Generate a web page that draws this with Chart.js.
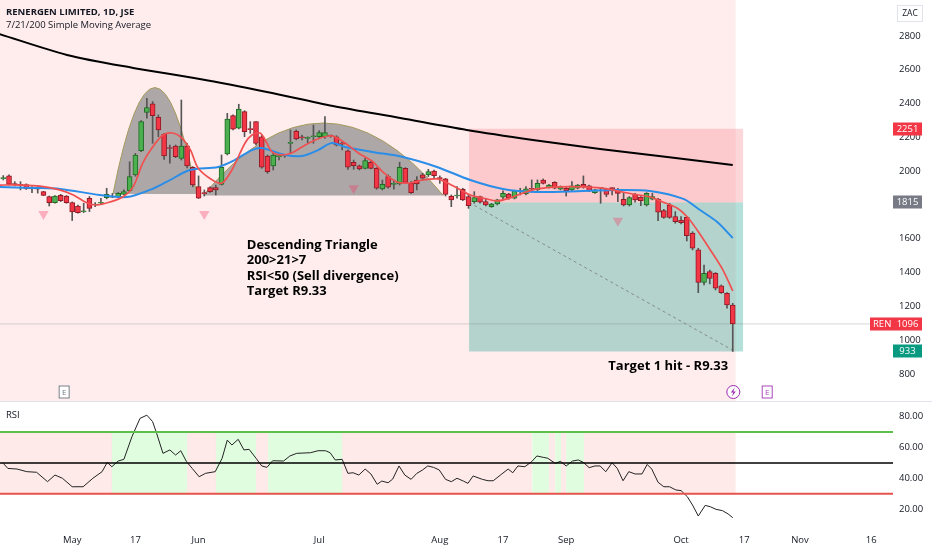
<!DOCTYPE html>
<html>
<head>
<meta charset="utf-8">
<script src="https://cdn.jsdelivr.net/npm/chart.js@4.4.0/dist/chart.umd.min.js"></script>
<style>
	html, body { margin: 0; padding: 0; background: #ffffff; }
	#wrap { position: relative; width: 932px; height: 550px; overflow: hidden; }
	#price_chart { position: absolute; left: 0; top: 0; }
	#rsi_chart { position: absolute; left: 0; top: 401px; }
</style>
</head>
<body>
<div id="wrap">
	<canvas id="price_chart" width="932" height="401"></canvas>
	<canvas id="rsi_chart" width="932" height="149"></canvas>
</div>
<script>
// daily candles, one per trading day (index 0 = first visible bar)
const opens = [1955,1972,1922,1918,1920,1898,1897,1879,1850,1814,
	1857,1853,1814,1794,1760,1840,1800,1810,1843,1853,
	1846,1863,1885,1978,2122,2348,2398,2319,2218,2136,
	2149,2076,2149,2023,1909,1869,1903,1903,1922,2102,
	2329,2254,2352,2248,2293,2204,2090,2031,2086,2090,
	2165,2238,2198,2194,2204,2204,2204,2210,2204,2162,
	2120,2053,2031,2017,2053,2017,1895,1968,1922,1924,
	2017,1928,1948,1978,1978,2001,1958,1954,1853,1853,
	1893,1849,1820,1849,1820,1790,1806,1846,1865,1840,
	1879,1865,1895,1889,1948,1903,1934,1893,1899,1889,
	1899,1922,1913,1873,1899,1895,1899,1893,1834,1800,
	1865,1846,1800,1834,1834,1767,1800,1731,1711,1727,
	1633,1534,1341,1406,1396,1321,1277,1208];
const highs = [1974,1978,1938,1938,1925,1909,1909,1881,1853,1856,
	1863,1856,1818,1800,1810,1850,1814,1840,1899,1868,
	1873,1889,2056,2105,2300,2431,2412,2333,2224,2155,
	2155,2421,2165,2027,1972,1889,1907,1918,2096,2342,
	2333,2396,2358,2293,2293,2214,2096,2110,2096,2096,
	2244,2244,2214,2204,2273,2240,2323,2214,2210,2175,
	2126,2066,2037,2076,2062,2021,1948,1978,1948,2053,
	2021,1938,1968,1987,2011,2007,1972,1958,1859,1909,
	1899,1859,1879,1853,1840,1810,1834,1883,1869,1887,
	1899,1909,1948,1948,1954,1922,1938,1913,1903,1938,
	1922,1972,1918,1893,1903,1899,1903,1899,1869,1850,
	1869,1849,1873,1869,1840,1774,1810,1761,1731,1731,
	1642,1544,1445,1415,1400,1327,1281,1218];
const lows = [1948,1918,1913,1889,1892,1873,1870,1855,1794,1810,
	1820,1810,1708,1752,1755,1761,1790,1806,1836,1843,
	1843,1859,1880,1970,2115,2313,2165,2204,2070,2047,
	2080,2066,2020,1908,1838,1853,1875,1859,1918,2096,
	2244,2250,2204,2224,2155,2017,1987,2007,2066,2082,
	2106,2185,2185,2165,2165,2194,2194,2200,2149,2126,
	2011,2011,2007,2013,2013,1893,1889,1899,1893,1918,
	1928,1869,1889,1948,1968,1958,1928,1853,1790,1840,
	1826,1780,1810,1810,1794,1786,1800,1830,1834,1836,
	1859,1859,1885,1885,1924,1899,1895,1889,1853,1885,
	1895,1899,1879,1869,1810,1849,1859,1820,1794,1794,
	1816,1796,1794,1830,1707,1721,1721,1692,1688,1587,
	1534,1281,1327,1333,1297,1277,1189,933];
const closes = [1962,1922,1920,1916,1895,1895,1894,1857,1814,1853,
	1826,1814,1759,1755,1762,1780,1800,1811,1863,1846,
	1869,1879,1968,2096,2293,2376,2329,2244,2090,2134,
	2086,2149,2031,1918,1840,1867,1879,1889,2023,2309,
	2248,2368,2234,2246,2165,2023,1997,2096,2090,2090,
	2165,2191,2197,2194,2204,2228,2228,2208,2155,2160,
	2023,2033,2013,2062,2017,1899,1922,1905,1922,2023,
	1934,1873,1924,1958,1997,1974,1956,1863,1830,1853,
	1830,1796,1844,1816,1800,1806,1830,1869,1840,1883,
	1881,1895,1893,1928,1928,1918,1899,1909,1885,1913,
	1918,1909,1883,1889,1899,1863,1897,1869,1800,1844,
	1830,1826,1869,1849,1757,1727,1727,1701,1695,1619,
	1544,1341,1396,1366,1307,1281,1208,1096];

// moving averages as [bar, price]
const sma7 = [[-1,1918],[2.9,1918],[6.4,1912],[9.8,1889],[12.2,1859],[14.6,1812],[16.3,1800],[18.6,1818],
	[20.8,1847],[22.6,1907],[24.3,2049],[26.0,2143],[27.8,2214],[29.5,2226],[31.1,2196],[32.6,2125],
	[33.9,2019],[36.4,1948],[38.1,1930],[39.8,2007],[42.1,2167],[43.3,2214],[44.7,2226],[45.6,2185],
	[46.8,2114],[48.5,2096],[50.2,2108],[52.0,2143],[54.3,2185],[56.6,2208],[57.8,2202],[59.5,2167],
	[61.8,2108],[64.2,2060],[66.1,1995],[68.5,1936],[70.8,1930],[73.0,1948],[75.6,1954],[77.3,1930],
	[79.0,1901],[81.3,1859],[83.5,1841],[86.0,1824],[88.2,1841],[90.5,1871],[92.9,1895],[97.0,1907],
	[101.0,1907],[103.9,1901],[106.9,1883],[109.6,1865],[112.6,1847],[114.8,1818],[117.3,1782],
	[119.1,1729],[120.8,1652],[123.1,1534],[125.3,1415],[127.0,1291]];
const sma21 = [[-1,1907],[5.2,1901],[9.9,1895],[16.8,1859],[21.5,1847],[25.5,1889],[28.5,1938],[32.5,2007],
	[37.4,2025],[40.3,2066],[43.3,2125],[45.0,2137],[49.1,2096],[52.0,2090],[54.8,2125],[57.2,2167],
	[59.5,2143],[64.2,2114],[69.6,2084],[75.5,2025],[81.3,1948],[87.0,1895],[92.9,1877],[100.9,1883],
	[106.9,1889],[112.6,1883],[118.4,1836],[121.3,1770],[124.3,1699],[127.0,1605]];
const sma200 = [[-1,2815],[11.1,2688],[22.6,2611],[34.2,2546],[45.9,2469],[57.4,2386],[69.1,2315],
	[80.7,2244],[92.2,2185],[103.9,2131],[115.6,2084],[127.0,2036]];

// RSI(14) as [bar, value]
const rsi = [[0,49.7],[0.8,46.4],[2.4,46],[4.1,44.3],[5.8,43.9],[7.7,37.8],[9.0,42.1],[10.3,40],
	[12.0,34.5],[13.9,34.5],[15.6,40],[17.2,44.3],[18.1,50.3],[18.9,47.5],[20.0,51.2],[21.0,52.3],
	[22.4,67],[23.8,78.9],[25.0,81],[26.0,76.8],[26.7,69.2],[27.8,56.2],[29.0,58.4],[30.0,55.1],
	[30.9,57.9],[31.9,50.8],[32.9,46.4],[34.1,41],[35.2,43.2],[36.9,44.3],[38.1,53],[39.0,64.8],
	[39.8,61.6],[40.9,65.3],[41.9,58.4],[42.8,58.8],[44.0,53],[45.0,48],[45.9,47.1],[46.9,51.4],
	[48.8,51.2],[49.9,54.5],[51.1,56.2],[53.5,56.6],[54.8,57.9],[56.1,57.9],[56.9,56.6],[57.8,51.9],
	[59.0,52.3],[60.0,43.2],[60.9,43.6],[61.9,42.1],[63.0,46],[64.0,42.8],[65.1,36.1],[65.9,38.2],
	[67.0,37.1],[67.8,39.5],[68.9,48],[69.9,42.1],[71.0,39.3],[72.0,43.2],[73.0,45.4],[73.9,48],
	[74.9,47.1],[75.9,45.4],[77.0,39.3],[78.0,37.8],[79.0,40],[80.1,38.2],[80.9,36.7],[81.8,41.5],
	[83.4,39.3],[84.4,38.4],[85.3,38.4],[86.8,42.8],[87.9,46],[88.7,43.6],[89.6,48],[90.8,47.5],
	[92.0,50.8],[92.9,54.5],[94.0,53.6],[94.8,53],[96.1,49.7],[97.0,51],[98.0,48],[99.1,51.2],
	[100.1,51.9],[101.0,50.3],[102.0,46.9],[103.0,48],[103.9,48],[104.9,44.3],[106.0,50.1],[106.9,46.4],
	[107.9,38.4],[108.9,44.3],[110.0,42.8],[111.2,42.8],[112.1,49],[112.9,46],[114.0,37.4],[115.0,34.5],
	[116.0,34.5],[117.1,32.4],[118.0,32],[119.1,28],[120.0,22.6],[121.0,15.5],[122.2,22.4],[123.1,21.5],
	[124.1,19.8],[125.2,19],[126.2,16.8],[127.0,14.4]];
// stretches (in bars) where the RSI band is green
const rsi_green = [[18.9,32.0],[37.0,44.0],[46.1,59.0],[92.1,95.0],[96.1,97.1],[98.0,101.1]];
const rsi_levels = [70, 50, 30];

const signal_bars = [7, 35, 61, 107];
const signal_prices = [1747, 1747, 1899, 1706];

const price_ticks = [800, 1000, 1200, 1400, 1600, 1800, 2000, 2200, 2400, 2600, 2800];
const rsi_ticks = [20, 40, 60, 80];
const date_ticks = [12, 23, 34, 55, 76, 87, 98, 118, 129, 138.7, 151.1];
const date_labels = ['May', '17', 'Jun', 'Jul', 'Aug', '17', 'Sep', 'Oct', '17', 'Nov', '16'];

// drawings
const arcs = [
	{ from: 19.1, to: 33.7, base: 1865, peak: 2495 },
	{ from: 34.8, to: 76.6, base: 1856, peak: 2285 }
];
const trade = { from: 81.1, to: 128.8, entry: 1815, stop: 2251, target: 933, end: 127.4 };
const notes = [
	{ x: 42.4, y: 1563, align: 'left', lines: ['Descending Triangle', '200>21>7', 'RSI<50 (Sell divergence)', 'Target R9.33'] },
	{ x: 126.2, y: 847, align: 'right', lines: ['Target 1 hit - R9.33'] }
];
const events = [
	{ x: 10.6, kind: 'E', color: '#787b86' },
	{ x: 127.1, kind: 'bolt', color: '#9c27b0' },
	{ x: 133.0, kind: 'E', color: '#ab47bc' }
];
const price_tags = [
	{ value: 2251, text: '2251', color: '#f23645' },
	{ value: 1815, text: '1815', color: '#787b86' },
	{ value: 1096, text: '1096', name: 'REN', color: '#f23645' },
	{ value: 933, text: '933', color: '#089981' }
];

const X_MIN = -0.57;
const X_MAX = 154.9;
const FONT = "'Open Sans', 'Noto Sans', sans-serif";

Chart.defaults.font.family = FONT;
Chart.defaults.color = '#131722';

const price_ctx = document.getElementById('price_chart').getContext('2d');
const rsi_ctx = document.getElementById('rsi_chart').getContext('2d');

const bars = closes.map((c, i) => i);
const body_color = bars.map(i => closes[i] >= opens[i] ? '#4caf50' : '#f23645');
const body_edge = bars.map(i => closes[i] >= opens[i] ? '#1e6b22' : '#8e1b26');

const line_settings = {
	type: 'line',
	fill: false,
	pointRadius: 0,
	tension: 0.3,
	borderWidth: 2
};

function pairs(list) {
	return list.map(p => ({ x: p[0], y: p[1] }));
}

const price_decor = {
	id: 'price_decor',
	beforeDatasetsDraw(chart) {
		const ctx = chart.ctx;
		const area = chart.chartArea;
		const xs = chart.scales.x;
		const ys = chart.scales.y;
		ctx.save();
		ctx.beginPath();
		ctx.rect(area.left, area.top, area.right - area.left, area.bottom - area.top);
		ctx.clip();

		const end_x = xs.getPixelForValue(closes.length - 0.5);
		ctx.fillStyle = 'rgba(255, 82, 82, 0.1)';
		ctx.fillRect(area.left, area.top, end_x - area.left, area.bottom - area.top);

		const tx0 = xs.getPixelForValue(trade.from);
		const tx1 = xs.getPixelForValue(trade.to);
		const y_stop = ys.getPixelForValue(trade.stop);
		const y_entry = ys.getPixelForValue(trade.entry);
		const y_target = ys.getPixelForValue(trade.target);
		ctx.fillStyle = 'rgba(242, 54, 69, 0.2)';
		ctx.fillRect(tx0, y_stop, tx1 - tx0, y_entry - y_stop);
		ctx.fillStyle = 'rgba(8, 153, 129, 0.3)';
		ctx.fillRect(tx0, y_entry, tx1 - tx0, y_target - y_entry);

		arcs.forEach(a => {
			const x0 = xs.getPixelForValue(a.from);
			const x1 = xs.getPixelForValue(a.to);
			const yb = ys.getPixelForValue(a.base);
			const yc = ys.getPixelForValue(a.base + 2 * (a.peak - a.base));
			ctx.beginPath();
			ctx.moveTo(x0, yb);
			ctx.quadraticCurveTo((x0 + x1) / 2, yc, x1, yb);
			ctx.closePath();
			ctx.fillStyle = 'rgba(120, 120, 120, 0.6)';
			ctx.fill();
			ctx.beginPath();
			ctx.moveTo(x0, yb);
			ctx.quadraticCurveTo((x0 + x1) / 2, yc, x1, yb);
			ctx.strokeStyle = '#a39b5c';
			ctx.lineWidth = 1;
			ctx.stroke();
		});
		ctx.restore();
	},
	afterDatasetsDraw(chart) {
		const ctx = chart.ctx;
		const area = chart.chartArea;
		const xs = chart.scales.x;
		const ys = chart.scales.y;
		ctx.save();
		ctx.fillStyle = '#000000';
		ctx.font = 'bold 13px ' + FONT;
		ctx.textBaseline = 'middle';
		notes.forEach(n => {
			ctx.textAlign = n.align;
			const x = xs.getPixelForValue(n.x);
			const y = ys.getPixelForValue(n.y);
			n.lines.forEach((t, k) => ctx.fillText(t, x, y + k * 15.5));
		});

		const ey = area.bottom - 9;
		events.forEach(e => {
			const x = xs.getPixelForValue(e.x);
			ctx.strokeStyle = e.color;
			ctx.fillStyle = e.color;
			ctx.lineWidth = 1;
			if (e.kind === 'E') {
				ctx.fillStyle = '#ffffff';
				ctx.fillRect(x - 5.5, ey - 6.5, 11, 13);
				ctx.strokeRect(x - 5, ey - 6, 10, 12);
				ctx.fillStyle = e.color;
				ctx.font = '8px ' + FONT;
				ctx.textAlign = 'center';
				ctx.fillText('E', x, ey + 0.5);
			} else {
				ctx.beginPath();
				ctx.arc(x, ey, 6.5, 0, Math.PI * 2);
				ctx.fillStyle = '#ffffff';
				ctx.fill();
				ctx.stroke();
				ctx.beginPath();
				ctx.moveTo(x + 1.5, ey - 4.5);
				ctx.lineTo(x - 2.5, ey + 0.5);
				ctx.lineTo(x, ey + 0.5);
				ctx.lineTo(x - 1.5, ey + 4.5);
				ctx.lineTo(x + 2.5, ey - 0.5);
				ctx.lineTo(x, ey - 0.5);
				ctx.closePath();
				ctx.fillStyle = e.color;
				ctx.fill();
			}
		});
		ctx.restore();
	},
	afterDraw(chart) {
		const ctx = chart.ctx;
		const area = chart.chartArea;
		const ys = chart.scales.y;
		ctx.save();
		ctx.textBaseline = 'middle';
		ctx.font = '9.5px ' + FONT;
		price_tags.forEach(t => {
			const y = Math.round(ys.getPixelForValue(t.value));
			const left = t.name ? area.right - 23 : area.right;
			ctx.fillStyle = t.color;
			ctx.fillRect(left, y - 6.5, area.right + 29 - left, 13);
			ctx.fillStyle = '#ffffff';
			ctx.textAlign = 'center';
			ctx.fillText(t.text, area.right + 14.5, y + 0.5);
			if (t.name) {
				ctx.textAlign = 'left';
				ctx.fillText(t.name, left + 3, y + 0.5);
			}
		});

		ctx.fillStyle = '#ffffff';
		ctx.fillRect(area.right + 4, 5, 26, 17);
		ctx.strokeStyle = '#e0e3eb';
		ctx.strokeRect(area.right + 4.5, 5.5, 25, 16);
		ctx.fillStyle = '#131722';
		ctx.textAlign = 'center';
		ctx.font = '8.5px ' + FONT;
		ctx.fillText('ZAC', area.right + 17, 13.5);

		ctx.textAlign = 'left';
		ctx.font = 'bold 9.5px ' + FONT;
		ctx.fillText('RENERGEN LIMITED, 1D, JSE', 6, 12.5);
		ctx.font = '9.5px ' + FONT;
		ctx.fillText('7/21/200 Simple Moving Average', 6, 25);
		ctx.restore();
	}
};

const rsi_decor = {
	id: 'rsi_decor',
	beforeDatasetsDraw(chart) {
		const ctx = chart.ctx;
		const area = chart.chartArea;
		const xs = chart.scales.x;
		const ys = chart.scales.y;
		const y70 = ys.getPixelForValue(70);
		const y30 = ys.getPixelForValue(30);
		ctx.save();
		ctx.fillStyle = 'rgba(255, 82, 82, 0.12)';
		const end_x = xs.getPixelForValue(closes.length - 0.5);
		ctx.fillRect(area.left, y70, end_x - area.left, y30 - y70);
		ctx.fillStyle = 'rgba(60, 240, 60, 0.16)';
		rsi_green.forEach(z => {
			const x0 = xs.getPixelForValue(z[0]);
			const x1 = xs.getPixelForValue(z[1]);
			ctx.clearRect(x0, y70, x1 - x0, y30 - y70);
			ctx.fillRect(x0, y70, x1 - x0, y30 - y70);
		});
		ctx.restore();
	},
	afterDraw(chart) {
		const ctx = chart.ctx;
		ctx.save();
		ctx.strokeStyle = '#e0e3eb';
		ctx.lineWidth = 1;
		ctx.beginPath();
		ctx.moveTo(0, 0.5);
		ctx.lineTo(chart.width, 0.5);
		ctx.stroke();
		ctx.fillStyle = '#131722';
		ctx.font = '9.5px ' + FONT;
		ctx.textBaseline = 'middle';
		ctx.fillText('RSI', 6, 14);
		ctx.restore();
	}
};

function x_scale(show) {
	return {
		type: 'linear',
		display: show,
		min: X_MIN,
		max: X_MAX,
		offset: false,
		grid: { display: false, drawTicks: false },
		border: { display: false },
		afterBuildTicks: (scale) => {
			scale.ticks = date_ticks.map(v => ({ value: v }));
		},
		afterFit: (scale) => {
			scale.height = show ? 22 : 0;
			scale.paddingLeft = 0;
			scale.paddingRight = 0;
		},
		ticks: {
			autoSkip: false,
			maxRotation: 0,
			padding: 7,
			font: { size: 9.5 },
			color: '#131722',
			callback: (val, i) => date_labels[i]
		}
	};
}

function y_fit(scale) {
	scale.width = 39;
	scale.paddingTop = 0;
	scale.paddingBottom = 0;
}

const last_close = closes[closes.length - 1];

const price_chart = new Chart(price_ctx, {
	type: 'bar',
	data: {
		datasets: [{
			label: 'SMA 200',
			data: pairs(sma200),
			borderColor: '#000000',
			...line_settings,
			order: 3
		}, {
			label: 'SMA 21',
			data: pairs(sma21),
			borderColor: '#2a8ee8',
			...line_settings,
			order: 2
		}, {
			label: 'SMA 7',
			data: pairs(sma7),
			borderColor: '#f05050',
			...line_settings,
			borderWidth: 1.7,
			order: 1
		}, {
			label: 'Last',
			type: 'line',
			data: [{ x: X_MIN - 1, y: last_close }, { x: X_MAX + 1, y: last_close }],
			borderColor: 'rgba(120, 123, 134, 0.3)',
			borderWidth: 1,
			pointRadius: 0,
			order: 7
		}, {
			label: 'Path',
			type: 'line',
			data: [{ x: trade.from, y: trade.entry }, { x: trade.end, y: trade.target }],
			borderColor: 'rgba(110, 110, 110, 0.7)',
			borderWidth: 1,
			borderDash: [3, 3],
			pointRadius: 0,
			order: 6
		}, {
			label: 'Wick',
			type: 'bar',
			data: bars.map(i => ({ x: i, y: [lows[i], highs[i]] })),
			backgroundColor: '#555555',
			barThickness: 1,
			grouped: false,
			order: 5
		}, {
			label: 'Body',
			type: 'bar',
			data: bars.map(i => ({ x: i, y: [opens[i], closes[i]] })),
			backgroundColor: body_color,
			borderColor: body_edge,
			borderWidth: 1,
			borderSkipped: false,
			barThickness: 5,
			minBarLength: 1,
			grouped: false,
			order: 4
		}, {
			label: 'Signal',
			type: 'line',
			showLine: false,
			data: signal_bars.map((b, k) => ({ x: b, y: signal_prices[k] })),
			pointStyle: 'triangle',
			rotation: 180,
			pointRadius: 6,
			pointBorderWidth: 0,
			pointBackgroundColor: 'rgba(242, 54, 100, 0.35)',
			order: 0
		}]
	},
	options: {
		responsive: false,
		animation: false,
		layout: { padding: 0, autoPadding: false },
		plugins: {
			legend: { display: false },
			tooltip: { enabled: false },
			title: { display: false }
		},
		scales: {
			x: x_scale(false),
			y: {
				position: 'right',
				min: 640,
				max: 3013,
				grid: { display: false, drawTicks: false },
				border: { display: false },
				afterBuildTicks: (scale) => {
					scale.ticks = price_ticks.map(v => ({ value: v }));
				},
				afterFit: y_fit,
				ticks: {
					padding: 6,
					font: { size: 9.5 },
					color: '#131722',
					callback: (val) => String(val)
				}
			}
		}
	},
	plugins: [price_decor]
});

const rsi_chart = new Chart(rsi_ctx, {
	type: 'line',
	data: {
		datasets: [{
			label: 'Upper',
			data: [{ x: X_MIN, y: rsi_levels[0] }, { x: X_MAX, y: rsi_levels[0] }],
			borderColor: '#5cbf4a',
			borderWidth: 2,
			pointRadius: 0
		}, {
			label: 'Middle',
			data: [{ x: X_MIN, y: rsi_levels[1] }, { x: X_MAX, y: rsi_levels[1] }],
			borderColor: '#000000',
			borderWidth: 1.5,
			pointRadius: 0
		}, {
			label: 'Lower',
			data: [{ x: X_MIN, y: rsi_levels[2] }, { x: X_MAX, y: rsi_levels[2] }],
			borderColor: '#e5534b',
			borderWidth: 2,
			pointRadius: 0
		}, {
			label: 'RSI',
			data: pairs(rsi),
			borderColor: '#222222',
			borderWidth: 1,
			pointRadius: 0,
			tension: 0
		}]
	},
	options: {
		responsive: false,
		animation: false,
		layout: { padding: 0, autoPadding: false },
		plugins: {
			legend: { display: false },
			tooltip: { enabled: false }
		},
		scales: {
			x: x_scale(true),
			y: {
				position: 'right',
				min: 7.7,
				max: 90.2,
				grid: { display: false, drawTicks: false },
				border: { display: false },
				afterBuildTicks: (scale) => {
					scale.ticks = rsi_ticks.map(v => ({ value: v }));
				},
				afterFit: y_fit,
				ticks: {
					padding: 6,
					font: { size: 9.5 },
					color: '#131722',
					callback: (val) => val.toFixed(2)
				}
			}
		}
	},
	plugins: [rsi_decor]
});
</script>
</body>
</html>
